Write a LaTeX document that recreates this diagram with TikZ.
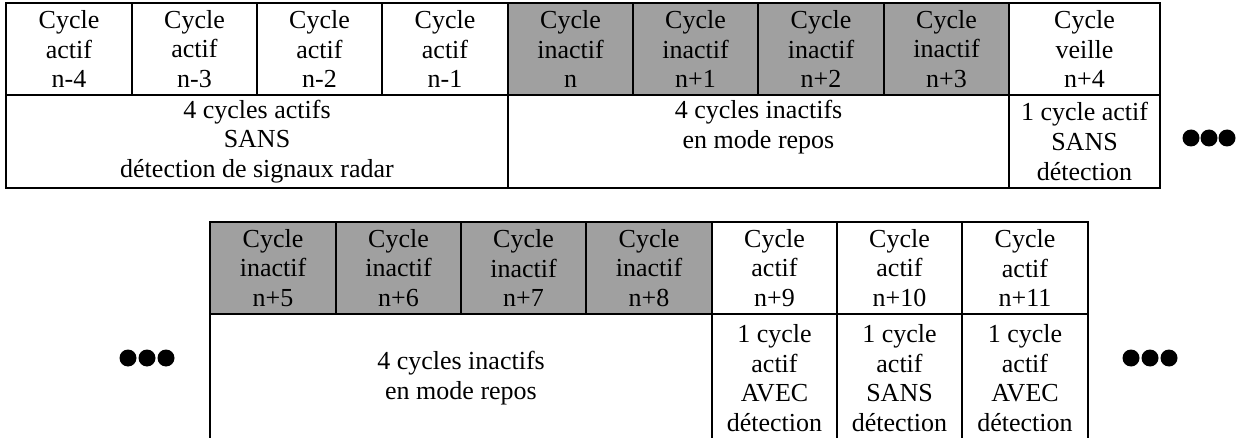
\documentclass[tikz,border=0pt]{standalone}
\usepackage{fontspec}
\setmainfont{Liberation Serif}
\definecolor{cellgray}{RGB}{160,160,160}
\newcommand\cellfont{\fontsize{13}{14.8}\selectfont}
\tikzset{
  cell/.style={draw=black, line width=1.2pt, inner sep=0pt, align=center,
    font=\cellfont, minimum height=#1*0.5pt},
  shaded/.style={fill=cellgray},
  cw/.style={minimum width=#1*0.5pt},
  txt/.style={inner sep=0pt, align=center, font=\cellfont},
  dot/.style={circle, fill=black, inner sep=0pt, minimum size=8.5pt},
}
\begin{document}
\begin{tikzpicture}[x=0.5pt, y=-0.5pt]
\useasboundingbox (0,0) rectangle (1236,438);
\clip (0,0) rectangle (1236,438);

% first table: cycles n-4 .. n+4
\node[cell=92, cw=126] (c1) at (69,49)     {Cycle\\actif\\n-4};
\node[cell=92, cw=125] (c2) at (194.5,49)  {Cycle\\actif\\n-3};
\node[cell=92, cw=125] (c3) at (319.5,49)  {Cycle\\actif\\n-2};
\node[cell=92, cw=126] (c4) at (445,49)    {Cycle\\actif\\n-1};
\node[cell=92, cw=125, shaded] (c5) at (570.5,49) {Cycle\\inactif\\n};
\node[cell=92, cw=125, shaded] (c6) at (695.5,49) {Cycle\\inactif\\n+1};
\node[cell=92, cw=126, shaded] (c7) at (821,49)   {Cycle\\inactif\\n+2};
\node[cell=92, cw=125, shaded] (c8) at (946.5,49) {Cycle\\inactif\\n+3};
\node[cell=92, cw=151] (c9) at (1084.5,49) {Cycle\\veille\\n+4};

\node[cell=93, cw=502] (b1) at (257,141.5) {4 cycles actifs\\SANS\\détection de signaux radar};
\node[cell=93, cw=501] (b2) at (758.5,141.5) {};
\node[txt] (b2t) at (758.5,127) {4 cycles inactifs\\en mode repos};
\node[cell=93, cw=151] (b3) at (1084.5,141.5) {1 cycle actif\\SANS\\détection};

\node[dot] (r1) at (1191,138) {};
\node[dot] (r2) at (1209,138) {};
\node[dot] (r3) at (1227,138) {};

% second table: cycles n+5 .. n+11
\node[cell=92, cw=126, shaded] (e1) at (273,268)   {Cycle\\inactif\\n+5};
\node[cell=92, cw=125, shaded] (e2) at (398.5,268) {Cycle\\inactif\\n+6};
\node[cell=92, cw=125, shaded] (e3) at (523.5,268) {Cycle\\inactif\\n+7};
\node[cell=92, cw=126, shaded] (e4) at (649,268)   {Cycle\\inactif\\n+8};
\node[cell=92, cw=125] (e5) at (774.5,268) {Cycle\\actif\\n+9};
\node[cell=92, cw=125] (e6) at (899.5,268) {Cycle\\actif\\n+10};
\node[cell=92, cw=126] (e7) at (1025,268)  {Cycle\\actif\\n+11};

\node[cell=128, cw=502] (d1) at (461,378)   {4 cycles inactifs\\en mode repos};
\node[cell=128, cw=125] (d2) at (774.5,378) {1 cycle\\actif\\AVEC\\détection};
\node[cell=128, cw=125] (d3) at (899.5,378) {1 cycle\\actif\\SANS\\détection};
\node[cell=128, cw=126] (d4) at (1025,378)  {1 cycle\\actif\\AVEC\\détection};

\node[dot] (l1) at (128,358) {};
\node[dot] (l2) at (147,358) {};
\node[dot] (l3) at (166,358) {};
\node[dot] (s1) at (1131,358) {};
\node[dot] (s2) at (1150,358) {};
\node[dot] (s3) at (1169,358) {};
\end{tikzpicture}
\end{document}
